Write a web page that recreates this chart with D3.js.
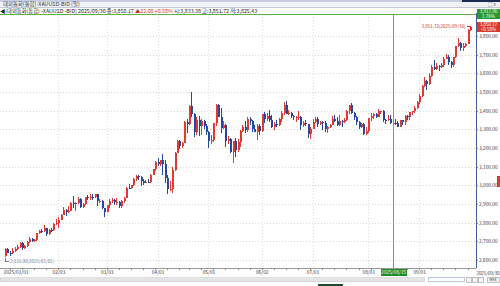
<!DOCTYPE html>
<html>
<head>
<meta charset="utf-8">
<script src="https://cdn.jsdelivr.net/npm/d3@7"></script>
<style>
body { margin: 0; background: #fff; }
svg { display: block; font-family: "Noto Sans CJK KR", "Noto Sans", sans-serif; }
</style>
</head>
<body>
<div></div>
<script>
// daily candles: [MM/DD, open, high, low, close]
const jan = [["01/02",2624,2665,2616,2658],["01/03",2658,2665,2635,2640],["01/06",2640,2650,2620,2636],["01/07",2636,2665,2632,2649],
  ["01/08",2649,2671,2643,2661],["01/09",2661,2678,2656,2670],["01/10",2670,2697,2664,2690],["01/13",2690,2694,2656,2663],
  ["01/14",2663,2679,2661,2677],["01/15",2677,2700,2667,2696],["01/16",2696,2725,2690,2715],["01/17",2715,2718,2697,2702],
  ["01/20",2702,2711,2695,2707],["01/21",2707,2746,2701,2744],["01/22",2744,2763,2741,2755],["01/23",2755,2764,2742,2754],
  ["01/24",2754,2786,2752,2770],["01/27",2770,2772,2730,2740],["01/28",2740,2765,2736,2763],["01/29",2763,2770,2750,2760],
  ["01/30",2760,2800,2758,2794],["01/31",2794,2817,2790,2798]];
const feb = [["02/03",2798,2830,2772,2816],["02/04",2816,2845,2814,2843],["02/05",2843,2882,2839,2867],["02/06",2867,2871,2834,2856],
  ["02/07",2856,2887,2853,2861],["02/10",2861,2911,2860,2908],["02/11",2908,2942,2880,2898],["02/12",2898,2910,2864,2905],
  ["02/13",2905,2935,2902,2928],["02/14",2928,2932,2876,2883],["02/17",2883,2905,2880,2898],["02/18",2898,2938,2893,2935],
  ["02/19",2935,2947,2922,2933],["02/20",2933,2955,2920,2940],["02/21",2940,2951,2920,2936],["02/24",2936,2956,2930,2952],
  ["02/25",2952,2953,2890,2915],["02/26",2915,2928,2906,2917],["02/27",2917,2921,2875,2876],["02/28",2876,2881,2832,2857]];
const mar = [["03/03",2857,2896,2857,2893],["03/04",2893,2928,2880,2917],["03/05",2917,2930,2904,2920],["03/06",2920,2927,2897,2910],
  ["03/07",2910,2930,2894,2910],["03/10",2910,2915,2880,2889],["03/11",2889,2921,2880,2916],["03/12",2916,2940,2906,2934],
  ["03/13",2934,2989,2932,2987],["03/14",2987,3005,2978,2984],["03/17",2984,3001,2982,3000],["03/18",3000,3038,2999,3035],
  ["03/19",3035,3053,3024,3048],["03/20",3048,3057,3029,3045],["03/21",3045,3048,2999,3024],["03/24",3024,3035,3003,3012],
  ["03/25",3012,3030,3011,3019],["03/26",3019,3034,3012,3018],["03/27",3018,3060,3014,3057],["03/28",3057,3087,3056,3085],
  ["03/31",3085,3128,3077,3124]];
const apr = [["04/01",3124,3149,3101,3113],["04/02",3113,3135,3105,3134],["04/03",3134,3167,3054,3114],["04/04",3114,3135,3015,3037],
  ["04/07",3037,3055,2956,2982],["04/08",2982,3022,2970,2983],["04/09",2983,3100,2957,3083],["04/10",3083,3177,3075,3175],
  ["04/11",3175,3245,3173,3238],["04/14",3238,3245,3193,3210],["04/15",3210,3230,3200,3229],["04/16",3229,3343,3228,3341],
  ["04/17",3341,3357,3283,3327],["04/21",3327,3430,3325,3424],["04/22",3424,3500,3367,3381],["04/23",3381,3386,3260,3287],
  ["04/24",3287,3367,3270,3349],["04/25",3349,3371,3264,3318],["04/28",3318,3353,3268,3344],["04/29",3344,3350,3301,3317],
  ["04/30",3317,3328,3268,3288]];
const may = [["05/01",3288,3290,3202,3239],["05/02",3239,3269,3223,3241],["05/05",3241,3334,3230,3334],["05/06",3334,3437,3320,3431],
  ["05/07",3431,3435,3364,3365],["05/08",3365,3414,3280,3306],["05/09",3306,3345,3300,3325],["05/12",3325,3326,3207,3237],
  ["05/13",3237,3265,3220,3249],["05/14",3249,3252,3172,3179],["05/15",3179,3240,3120,3240],["05/16",3240,3252,3153,3187],
  ["05/19",3187,3250,3180,3230],["05/20",3230,3295,3204,3290],["05/21",3290,3325,3284,3314],["05/22",3314,3345,3283,3295],
  ["05/23",3295,3366,3287,3358],["05/26",3358,3365,3324,3343],["05/27",3343,3350,3285,3301],["05/28",3301,3325,3285,3288],
  ["05/29",3288,3330,3245,3318],["05/30",3318,3326,3271,3289]];
const jun = [["06/02",3289,3382,3288,3380],["06/03",3380,3392,3333,3353],["06/04",3353,3385,3344,3372],["06/05",3372,3403,3338,3352],
  ["06/06",3352,3375,3307,3310],["06/09",3310,3340,3294,3326],["06/10",3326,3349,3310,3323],["06/11",3323,3360,3316,3355],
  ["06/12",3355,3397,3340,3386],["06/13",3386,3446,3379,3432],["06/16",3432,3452,3380,3384],["06/17",3384,3403,3375,3389],
  ["06/18",3389,3395,3362,3370],["06/19",3370,3375,3348,3367],["06/20",3367,3373,3340,3368],["06/23",3368,3398,3350,3368],
  ["06/24",3368,3370,3295,3323],["06/25",3323,3346,3310,3332],["06/26",3332,3350,3317,3327],["06/27",3327,3329,3255,3274],
  ["06/30",3274,3310,3247,3303]];
const jul = [["07/01",3303,3358,3302,3339],["07/02",3339,3365,3332,3357],["07/03",3357,3366,3311,3326],["07/04",3326,3345,3322,3337],
  ["07/07",3337,3343,3296,3335],["07/08",3335,3345,3287,3301],["07/09",3301,3318,3282,3313],["07/10",3313,3331,3309,3324],
  ["07/11",3324,3369,3322,3355],["07/14",3355,3375,3341,3343],["07/15",3343,3366,3320,3324],["07/16",3324,3377,3320,3347],
  ["07/17",3347,3351,3310,3339],["07/18",3339,3361,3332,3350],["07/21",3350,3402,3345,3397],["07/22",3397,3433,3384,3431],
  ["07/23",3431,3439,3381,3387],["07/24",3387,3393,3351,3368],["07/25",3368,3373,3325,3337],["07/28",3337,3345,3302,3314],
  ["07/29",3314,3334,3309,3326],["07/30",3326,3334,3268,3274],["07/31",3274,3315,3268,3289]];
const aug = [["08/01",3289,3363,3282,3362],["08/04",3362,3385,3347,3373],["08/05",3373,3390,3357,3380],["08/06",3380,3385,3360,3368],
  ["08/07",3368,3409,3364,3397],["08/08",3397,3400,3380,3398],["08/11",3398,3405,3341,3351],["08/12",3351,3358,3331,3348],
  ["08/13",3348,3375,3342,3356],["08/14",3356,3375,3330,3335],["08/15",3335,3349,3333,3336],["08/18",3336,3358,3323,3332],
  ["08/19",3332,3345,3311,3315],["08/20",3315,3350,3311,3348],["08/21",3348,3351,3325,3339],["08/22",3339,3378,3321,3371],
  ["08/25",3371,3376,3351,3365],["08/26",3365,3393,3351,3392],["08/27",3392,3398,3375,3397],["08/28",3397,3423,3386,3416],
  ["08/29",3416,3453,3408,3448]];
const sep = [["09/01",3448,3490,3436,3476],["09/02",3476,3540,3472,3533],["09/03",3533,3578,3526,3559],["09/04",3559,3563,3511,3545],
  ["09/05",3545,3600,3540,3586],["09/08",3586,3646,3579,3636],["09/09",3636,3674,3620,3625],["09/10",3625,3658,3620,3641],
  ["09/11",3641,3646,3611,3634],["09/12",3634,3655,3628,3643],["09/15",3643,3685,3632,3679],["09/16",3679,3703,3676,3690],
  ["09/17",3690,3697,3645,3660],["09/18",3660,3666,3628,3643],["09/19",3643,3688,3633,3685],["09/22",3685,3749,3683,3746],
  ["09/23",3746,3791,3740,3763],["09/24",3763,3767,3717,3736],["09/25",3736,3761,3722,3749],["09/26",3749,3761,3740,3759],
  ["09/29",3759,3835,3757,3833],["09/30",3833.38,3851.72,3825.43,3850.17]];

const priceTicks = [2600, 2700, 2800, 2900, 3000, 3100, 3200, 3300, 3400, 3500, 3600, 3700, 3800];
const monthTicks = ["01/02", "02/03", "03/03", "04/01", "05/01", "06/02", "07/01", "08/01", "09/01"];
const monthLabels = ["2025/01/01", "02/03", "03/03", "04/01", "05/01", "06/02", "07/01", "08/01", "09/01"];
const cursorDate = "08/15";
const cursorPrice = 3917.96;
const cursorText = ["3,917.96", "1.76%"];
const lastText = ["3,850.17", "+0.58%"];
const title = "대외통화(통합)-XAUUSD-BID (일)";
const info = ["◀(대외통화(통합)~XAUUSD~BID) 2025/09/30 종:3,850.17 ", "▲22.00 +0.58%", " 시:3,833.38 고:3,851.72 저:3,825.43"];

let data = [].concat(jan, feb, mar, apr, may, jun, jul, aug, sep).map(r => ({
    date: r[0], open: r[1], high: r[2], low: r[3], close: r[4]
}));

let dimension = {
    width: 500,
    height: 286,
    margin: { top: 14, left: 0, right: 24, bottom: 18 }
};
let axisX = dimension.width - dimension.margin.right;   // 476
let axisY = dimension.height - dimension.margin.bottom; // 268

let svg = d3.select("div")
    .append("svg")
    .attr("width", dimension.width)
    .attr("height", dimension.height)
    .attr("shape-rendering", "crispEdges");

let X = d3.scalePoint()
    .domain(data.map(d => d.date))
    .range([5, 470]);
let Y = d3.scaleLinear()
    .domain([2600, 3800])
    .range([260, 36]);

// header
svg.append("rect").attr("x", 0).attr("y", 0).attr("width", 500).attr("height", 7).attr("fill", "#f1f2f7");
svg.append("rect").attr("x", 0).attr("y", 0).attr("width", 500).attr("height", 1.5).attr("fill", "#c9cde2");
svg.append("rect").attr("x", 462).attr("y", 0).attr("width", 38).attr("height", 2).attr("fill", "#1d2b4f");
svg.append("line").attr("x1", 0).attr("x2", 500).attr("y1", 7.5).attr("y2", 7.5).attr("stroke", "#c7c9d3");
svg.append("text").attr("x", 3).attr("y", 6.2).attr("font-size", 5.4).attr("fill", "#333").text(title);
svg.append("text").attr("x", 488).attr("y", 6).attr("font-size", 4.5).attr("fill", "#555").text("□ x");
let infoText = svg.append("text").attr("x", 0).attr("y", 12.8).attr("font-size", 5.3).attr("fill", "#222");
infoText.append("tspan").text(info[0]);
infoText.append("tspan").attr("fill", "#d42b20").text(info[1]);
infoText.append("tspan").text(info[2]);

// grid
svg.append("g")
    .selectAll("line")
    .data(priceTicks)
    .enter()
    .append("line")
    .attr("x1", 0).attr("x2", axisX)
    .attr("y1", d => Math.round(Y(d)) + 0.5).attr("y2", d => Math.round(Y(d)) + 0.5)
    .attr("stroke", "#d6d6d6").attr("stroke-dasharray", "1,2");
svg.append("g")
    .selectAll("line")
    .data(monthTicks.slice(1))
    .enter()
    .append("line")
    .attr("x1", d => Math.round(X(d)) + 0.5).attr("x2", d => Math.round(X(d)) + 0.5)
    .attr("y1", dimension.margin.top).attr("y2", axisY)
    .attr("stroke", "#dcdcdc").attr("stroke-dasharray", "1,2");

// candles
let colorOf = d => d.close >= d.open ? "#e23a2e" : "#2449a3";
let candles = svg.selectAll("g.candle")
    .data(data)
    .enter()
    .append("g")
    .attr("class", "candle");
candles.append("line")
    .attr("x1", d => Math.round(X(d.date)) + 0.5)
    .attr("x2", d => Math.round(X(d.date)) + 0.5)
    .attr("y1", d => Y(d.high))
    .attr("y2", d => Y(d.low))
    .attr("stroke", colorOf);
candles.append("rect")
    .attr("x", d => Math.round(X(d.date)) - 0.5)
    .attr("y", d => Y(Math.max(d.open, d.close)))
    .attr("width", 2)
    .attr("height", d => Math.max(1, Math.abs(Y(d.open) - Y(d.close))))
    .attr("fill", colorOf);

// high / low notes
let last = data[data.length - 1];
let lowPt = data.reduce((a, b) => b.low < a.low ? b : a);
let highPt = data.reduce((a, b) => b.high > a.high ? b : a);
svg.append("path")
    .attr("d", `M${Math.round(X(lowPt.date)) + 0.5},${Y(lowPt.low) + 1}V261.5H9`)
    .attr("fill", "none").attr("stroke", "#6b7fa8");
svg.append("text").attr("x", 10).attr("y", 263).attr("font-size", 4.5).attr("fill", "#6b7fa8")
    .text(d3.format(",.2f")(lowPt.low) + "(2025/" + lowPt.date + ")");
let hx = Math.round(X(highPt.date)) + 0.5;
svg.append("path")
    .attr("d", `M${hx - 4},${Math.round(Y(highPt.high)) + 0.5}H${hx}V${Math.round(Y(highPt.high)) + 3}`)
    .attr("fill", "none").attr("stroke", "#d42b20");
svg.append("text").attr("x", hx - 5).attr("y", Y(highPt.high) + 1.8).attr("font-size", 4.5)
    .attr("text-anchor", "end").attr("fill", "#d42b20")
    .text(d3.format(",.2f")(highPt.high) + "(2025/" + highPt.date + ")");

// crosshair
let cx = Math.round(X(cursorDate)) + 0.5;
let cy = Math.round(Y(cursorPrice)) + 0.5;
svg.append("line").attr("x1", cx).attr("x2", cx).attr("y1", dimension.margin.top).attr("y2", axisY)
    .attr("stroke", "#5fb246");
svg.append("line").attr("x1", 0).attr("x2", axisX).attr("y1", cy).attr("y2", cy)
    .attr("stroke", "#5fb246");

// right axis
let Yaxis = d3.axisRight(Y)
    .tickValues(priceTicks)
    .tickFormat(d3.format(",.2f"))
    .tickSize(2)
    .tickPadding(1);
let yAxisG = svg.append("g")
    .attr("class", "axis y-axis")
    .attr("transform", "translate(" + axisX + ",0)")
    .call(Yaxis);
yAxisG.select(".domain").remove();
yAxisG.selectAll("line").attr("stroke", "#888");
yAxisG.selectAll("text").attr("font-size", 4.8).attr("fill", "#333").attr("font-family", "'Noto Sans CJK KR', sans-serif");
svg.append("line").attr("x1", axisX + 0.5).attr("x2", axisX + 0.5).attr("y1", dimension.margin.top - 1).attr("y2", axisY)
    .attr("stroke", "#3e5f93").attr("stroke-width", 1.2);

// bottom axis
let Xaxis = d3.axisBottom(X)
    .tickValues(monthTicks)
    .tickFormat((d, i) => monthLabels[i])
    .tickSize(0)
    .tickPadding(2.5);
let xAxisG = svg.append("g")
    .attr("class", "axis x-axis")
    .attr("transform", "translate(0," + axisY + ")")
    .call(Xaxis);
xAxisG.select(".domain").remove();
xAxisG.selectAll("text").attr("font-size", 4.8).attr("fill", "#333").attr("font-family", "'Noto Sans CJK KR', sans-serif");
xAxisG.select(".tick text").attr("text-anchor", "start").attr("x", -2);
svg.append("line").attr("x1", 0).attr("x2", axisX).attr("y1", axisY + 0.5).attr("y2", axisY + 0.5).attr("stroke", "#9a9a9a");
// weekly minor ticks on mondays
svg.append("g")
    .selectAll("line")
    .data(data.filter(d => new Date("2025/" + d.date).getDay() === 1))
    .enter()
    .append("line")
    .attr("x1", d => Math.round(X(d.date)) + 0.5).attr("x2", d => Math.round(X(d.date)) + 0.5)
    .attr("y1", axisY).attr("y2", axisY + 2)
    .attr("stroke", "#888");
svg.append("text").attr("x", 476.5).attr("y", 275).attr("font-size", 4.4).attr("fill", "#333").text("2025/" + last.date);

// crosshair date box
svg.append("rect").attr("x", cx - 13).attr("y", axisY + 1).attr("width", 26).attr("height", 7).attr("fill", "#1f8a2a");
svg.append("text").attr("x", cx).attr("y", axisY + 6.3).attr("font-size", 4.8).attr("text-anchor", "middle")
    .attr("fill", "#fff").text("2025/" + cursorDate);

// price boxes
function priceBox(yc, fill, lines) {
    svg.append("rect").attr("x", axisX + 1).attr("y", yc - 5).attr("width", 23).attr("height", 10).attr("fill", fill);
    svg.append("text").attr("x", axisX + 12.5).attr("y", yc - 0.6).attr("font-size", 4.5).attr("text-anchor", "middle")
        .attr("fill", "#fff").text(lines[0]);
    svg.append("text").attr("x", axisX + 12.5).attr("y", yc + 4).attr("font-size", 4.5).attr("text-anchor", "middle")
        .attr("fill", "#fff").text(lines[1]);
}
priceBox(Y(cursorPrice), "#2a9a2e", cursorText);
priceBox(Y(last.close), "#d8392b", lastText);
svg.append("rect").attr("x", 497).attr("y", Y(3000) - 9).attr("width", 3).attr("height", 11).attr("fill", "#d8392b");

// scroll bar
svg.append("rect").attr("x", 0).attr("y", 277.5).attr("width", 424).attr("height", 4).attr("fill", "#e4e4e4").attr("stroke", "#c2c2c2").attr("stroke-width", 0.5);
svg.append("rect").attr("x", 428).attr("y", 277.5).attr("width", 36).attr("height", 4).attr("fill", "#fff").attr("stroke", "#8aa0c8").attr("stroke-width", 0.6);
[466, 472, 478].forEach(x => {
    svg.append("rect").attr("x", x).attr("y", 277).attr("width", 5).attr("height", 5).attr("fill", "#f4f4f4").attr("stroke", "#888").attr("stroke-width", 0.5);
});
svg.append("rect").attr("x", 487).attr("y", 277).attr("width", 12).attr("height", 5).attr("fill", "#f4f4f4").attr("stroke", "#888").attr("stroke-width", 0.5);
svg.append("text").attr("x", 493).attr("y", 281).attr("font-size", 3.5).attr("text-anchor", "middle").attr("fill", "#333").text("MAX");
svg.append("rect").attr("x", 318).attr("y", 284).attr("width", 25).attr("height", 2).attr("fill", "#1f4d2a");
</script>
</body>
</html>
